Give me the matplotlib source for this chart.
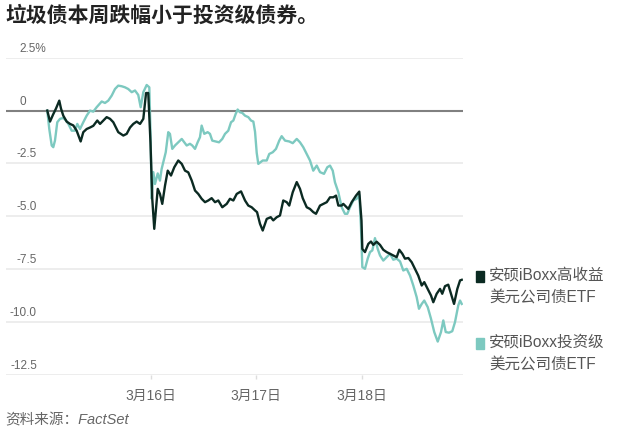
import matplotlib
matplotlib.use('Agg')
import matplotlib.pyplot as plt
from matplotlib.patches import Rectangle

# trading-day axis: 0 = 3/13 open, 1 = 3/16, 2 = 3/17, 3 = 3/18
hy_t = [0.015, 0.041, 0.069, 0.098, 0.129, 0.145, 0.167, 0.199, 0.231, 0.262,
        0.294, 0.332, 0.357, 0.389, 0.421, 0.452, 0.490, 0.516, 0.547, 0.579,
        0.611, 0.642, 0.689, 0.737, 0.769, 0.801, 0.832, 0.864, 0.896, 0.927,
        0.953, 0.974, 0.995, 1.012, 1.031, 1.064, 1.085, 1.107, 1.133, 1.159,
        1.190, 1.221, 1.259, 1.292, 1.323, 1.354, 1.387, 1.418, 1.449, 1.481,
        1.513, 1.544, 1.576, 1.608, 1.639, 1.677, 1.719, 1.750, 1.782, 1.814,
        1.855, 1.893, 1.924, 1.956, 1.988, 2.007, 2.035, 2.061, 2.099, 2.137,
        2.161, 2.194, 2.225, 2.256, 2.289, 2.313, 2.346, 2.384, 2.415, 2.441,
        2.479, 2.510, 2.541, 2.567, 2.605, 2.636, 2.669, 2.700, 2.731, 2.757,
        2.779, 2.811, 2.826, 2.874, 2.906, 2.947, 2.978, 2.999, 3.007, 3.032,
        3.064, 3.089, 3.111, 3.143, 3.175, 3.206, 3.238, 3.270, 3.301, 3.333,
        3.358, 3.387, 3.412, 3.444, 3.476, 3.507, 3.538, 3.571, 3.595, 3.628,
        3.659, 3.681, 3.713, 3.745, 3.766, 3.792, 3.823, 3.849, 3.878, 3.909,
        3.935, 3.951]
hy_v = [0, -0.52, -0.2, 0.1, 0.47, 0.1, -0.24, -0.52, -0.63, -0.70,
        -0.95, -1.46, -1.02, -0.87, -0.80, -0.72, -0.47, -0.63, -0.47, -0.31,
        -0.39, -0.55, -1.02, -1.18, -1.10, -0.80, -0.63, -0.52, -0.63, -0.39,
        0.83, 0.83, -1.5, -4.17, -5.59, -3.70, -3.94, -4.41, -3.55, -2.84,
        -3.07, -2.68, -2.36, -2.52, -2.84, -2.92, -3.31, -3.78, -3.94, -4.17,
        -4.33, -4.25, -4.14, -4.33, -4.25, -4.57, -4.41, -4.17, -4.25, -3.94,
        -3.82, -4.25, -4.49, -4.57, -4.72, -4.80, -5.35, -5.67, -5.12, -5.04,
        -5.19, -5.04, -4.96, -4.25, -4.33, -4.49, -3.86, -3.38, -3.70, -4.14,
        -4.57, -4.65, -4.80, -4.88, -4.49, -4.41, -4.33, -4.10, -4.10, -4.02,
        -4.49, -4.49, -4.41, -4.65, -4.33, -4.02, -3.83, -5.2, -6.54, -6.69,
        -6.30, -6.19, -6.35, -6.2, -6.35, -6.58, -6.69, -6.77, -6.85, -6.93,
        -6.58, -6.77, -7.0, -6.97, -7.17, -7.48, -7.80, -8.27, -8.11, -8.43,
        -8.74, -9.06, -8.66, -8.43, -8.66, -8.30, -8.23, -8.66, -9.14, -8.43,
        -8.03, -8.0]

ig_t = [0.015, 0.034, 0.057, 0.072, 0.088, 0.110, 0.136, 0.167, 0.193, 0.215,
        0.247, 0.278, 0.300, 0.326, 0.357, 0.389, 0.421, 0.452, 0.484, 0.532,
        0.563, 0.594, 0.627, 0.658, 0.689, 0.722, 0.753, 0.784, 0.817, 0.848,
        0.879, 0.902, 0.927, 0.959, 0.984, 0.995, 1.007, 1.022, 1.038, 1.064,
        1.085, 1.101, 1.117, 1.140, 1.164, 1.180, 1.202, 1.228, 1.259, 1.292,
        1.316, 1.339, 1.370, 1.392, 1.418, 1.443, 1.465, 1.481, 1.506, 1.538,
        1.560, 1.582, 1.614, 1.646, 1.677, 1.703, 1.734, 1.760, 1.782, 1.804,
        1.823, 1.845, 1.867, 1.893, 1.924, 1.950, 1.972, 1.988, 2.004, 2.019,
        2.061, 2.099, 2.123, 2.156, 2.187, 2.218, 2.241, 2.273, 2.313, 2.346,
        2.384, 2.415, 2.446, 2.479, 2.510, 2.541, 2.574, 2.605, 2.643, 2.674,
        2.700, 2.726, 2.747, 2.779, 2.811, 2.842, 2.864, 2.890, 2.921, 2.953,
        2.978, 2.994, 3.007, 3.032, 3.058, 3.080, 3.102, 3.127, 3.153, 3.175,
        3.206, 3.238, 3.270, 3.301, 3.333, 3.365, 3.396, 3.428, 3.460, 3.491,
        3.523, 3.545, 3.571, 3.595, 3.628, 3.659, 3.690, 3.723, 3.754, 3.776,
        3.799, 3.830, 3.861, 3.887, 3.918, 3.935, 3.951]
ig_v = [0, -0.87, -1.65, -1.73, -1.42, -0.55, -0.39, -0.35, -0.47, -0.63,
        -0.95, -0.95, -0.63, -0.87, -0.55, -0.24, 0, -0.05, 0.16, 0.43,
        0.36, 0.47, 0.71, 1.02, 1.18, 1.15, 1.10, 1.02, 0.87, 0.95,
        0.74, 0.16, 0.87, 1.21, 1.10, -1.0, -4.17, -2.91, -3.47, -2.97,
        -3.31, -2.76, -2.44, -1.97, -1.02, -1.10, -1.81, -1.65, -1.50, -1.34,
        -1.50, -1.65, -1.57, -1.65, -1.81, -1.50, -1.26, -0.71, -1.10, -1.02,
        -1.10, -1.42, -1.46, -1.50, -1.34, -1.10, -0.95, -0.55, -0.47, -0.16,
        0.05, -0.08, -0.11, -0.24, -0.31, -0.47, -0.52, -1.0, -2.0, -2.52,
        -2.36, -2.36, -2.05, -1.97, -1.81, -1.42, -1.21, -1.42, -1.46, -1.54,
        -1.34, -1.50, -1.73, -2.05, -2.36, -2.84, -2.60, -2.91, -2.99, -2.68,
        -2.60, -2.84, -3.39, -3.86, -4.57, -4.88, -4.88, -4.57, -4.25, -4.17,
        -3.99, -5.5, -7.40, -7.48, -7.0, -6.69, -6.61, -6.03, -6.54, -6.85,
        -7.09, -6.93, -6.77, -7.05, -7.0, -7.13, -7.56, -7.48, -7.80, -8.27,
        -8.82, -9.37, -9.14, -8.98, -9.29, -9.84, -10.47, -10.92, -10.47, -9.92,
        -10.47, -10.50, -10.43, -10.0, -9.21, -8.98, -9.14]

x_ticks = [1, 2, 3]
x_labels = ['3月16日', '3月17日', '3月18日']
y_ticks = [2.5, 0, -2.5, -5.0, -7.5, -10.0, -12.5]
y_labels = ['2.5%', '0', '-2.5', '-5.0', '-7.5', '-10.0', '-12.5']
series_names = ['安硕iBoxx高收益\n美元公司债ETF', '安硕iBoxx投资级\n美元公司债ETF']

HY_COLOR = '#0b2a22'
IG_COLOR = '#7dc9c0'
GREY = '#666666'

plt.rcParams['font.family'] = ['Liberation Sans', 'Noto Sans CJK SC']

W, H = 632, 433
fig = plt.figure(figsize=(W / 100, H / 100), dpi=100)
ax = fig.add_axes([6 / W, 1 - 375 / H, 457 / W, (375 - 57.7) / H])

for y in y_ticks:
    ax.axhline(y, color='#ececec', lw=1.3, zorder=0)
ax.axhline(0, color='#808080', lw=1.5, zorder=1)

ax.plot(ig_t, ig_v, color=IG_COLOR, lw=1.7, zorder=2)
ax.plot(hy_t, hy_v, color=HY_COLOR, lw=1.7, zorder=3)

ax.set_xlim(-0.377, 3.963)
ax.set_ylim(-12.5, 2.5)
for s in ax.spines.values():
    s.set_visible(False)
ax.set_yticks([])
ax.set_xticks(x_ticks)
ax.set_xticklabels(x_labels, fontsize=10, color=GREY)
ax.tick_params(axis='x', length=3, width=1, color='#dddddd', pad=7)

for y, lab in zip(y_ticks, y_labels):
    if y >= 0:
        ax.annotate(lab, xy=(13 / 457, y), xycoords=('axes fraction', 'data'),
                    xytext=(0, 6), textcoords='offset points',
                    ha='left', va='center', fontsize=8.5, color=GREY)
    else:
        ax.annotate(lab, xy=(31 / 457, y), xycoords=('axes fraction', 'data'),
                    xytext=(0, 6.5), textcoords='offset points',
                    ha='right', va='center', fontsize=8.5, color=GREY)

fig.text(5 / W, 1 - 15 / H, '垃圾债本周跌幅小于投资级债券。', fontsize=15,
         fontweight='bold', color='#222222', family=['Noto Sans CJK SC'],
         ha='left', va='center')

# legend
for i, (name, c) in enumerate(zip(series_names, [HY_COLOR, IG_COLOR])):
    top = 271 + i * 67
    fig.patches.append(Rectangle((476 / W, 1 - (top + 11) / H), 8 / W, 11 / H,
                                 transform=fig.transFigure, color=c))
    fig.text(489 / W, 1 - (top + 15.5) / H, name, fontsize=11.2, color='#555555',
             ha='left', va='center', linespacing=1.7)

fig.text(5 / W, 1 - 420 / H, '资料来源：FactSet', fontsize=10.5, style='italic',
         color=GREY, ha='left', va='center')

fig.savefig('out.png', dpi=100)
